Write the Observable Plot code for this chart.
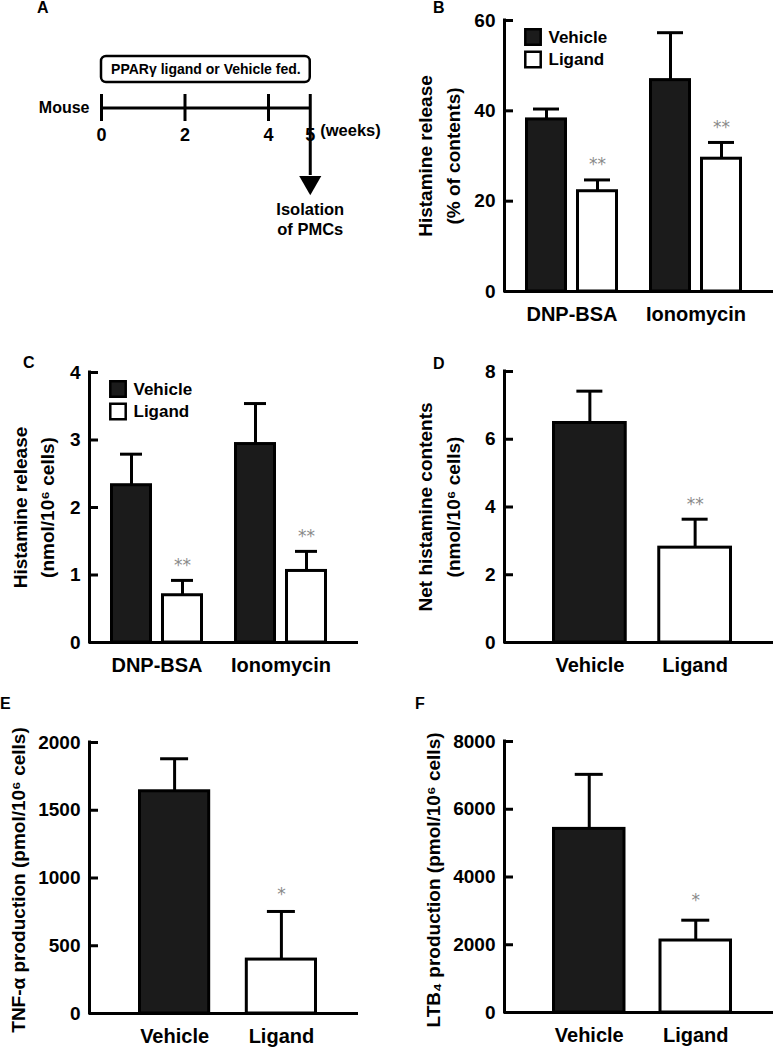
<!DOCTYPE html>
<html>
<head>
<meta charset="utf-8">
<script src="https://cdn.jsdelivr.net/npm/d3@7"></script>
<script src="https://cdn.jsdelivr.net/npm/@observablehq/plot@0.6"></script>
<style>
  body { margin: 0; background: #fff; }
  #fig { position: relative; width: 774px; height: 1050px; overflow: hidden;
         font-family: "Liberation Sans", Arial, Helvetica, sans-serif; color: #000; }
  .panel { position: absolute; }
  .panel svg { overflow: visible; }
  .letter { position: absolute; font-weight: bold; font-size: 16px; line-height: 16px; }
</style>
</head>
<body>
<div id="fig"></div>
<script>
const FONT = '"Liberation Sans", Arial, Helvetica, sans-serif';

// ---------- shared ----------
const seriesNames = ["Vehicle", "Ligand"];
const seriesFills = ["#1b1b1b", "#ffffff"];

// ---------- Panel A: protocol timeline ----------
const weekTicks = [0, 2, 4, 5];
const treatmentLabel = "PPARγ ligand or Vehicle fed.";
const treatmentStart = 0;
const treatmentEnd = 5;
const isolationWeek = 5;
const isolationLabel = "Isolation\nof PMCs";

// ---------- Panel B: histamine release (% of contents) ----------
const stimuli = ["DNP-BSA", "Ionomycin"];
const bVehicleMean = [38.1, 46.8];
const bVehicleSem = [2.3, 10.5];
const bLigandMean = [22.2, 29.4];
const bLigandSem = [2.5, 3.6];
const bLigandSig = ["**", "**"];
const bTicks = [0, 20, 40, 60];

// ---------- Panel C: histamine release (nmol/10^6 cells) ----------
const cVehicleMean = [2.33, 2.94];
const cVehicleSem = [0.46, 0.60];
const cLigandMean = [0.70, 1.06];
const cLigandSem = [0.22, 0.29];
const cLigandSig = ["**", "**"];
const cTicks = [0, 1, 2, 3, 4];

// ---------- Panel D: net histamine contents ----------
const dMean = [6.48, 2.80];
const dSem = [0.94, 0.84];
const dSig = ["", "**"];
const dTicks = [0, 2, 4, 6, 8];

// ---------- Panel E: TNF-alpha production ----------
const eMean = [1640, 398];
const eSem = [240, 355];
const eSig = ["", "*"];
const eTicks = [0, 500, 1000, 1500, 2000];

// ---------- Panel F: LTB4 production ----------
const fMean = [5420, 2125];
const fSem = [1610, 600];
const fSig = ["", "*"];
const fTicks = [0, 2000, 4000, 6000, 8000];

// ---------- helpers ----------
function groupedRows(cats, vm, vs, lm, ls, lsig) {
  const rows = [];
  cats.forEach((c, i) => {
    rows.push({x: c, series: seriesNames[0], mean: vm[i], sem: vs[i], sig: ""});
    rows.push({x: c, series: seriesNames[1], mean: lm[i], sem: ls[i], sig: lsig[i]});
  });
  return rows;
}
function singleRows(means, sems, sigs) {
  return seriesNames.map((s, i) => ({x: s, series: s, mean: means[i], sem: sems[i], sig: sigs[i]}));
}

const fig = document.getElementById("fig");
function place(node, left, top) {
  const d = document.createElement("div");
  d.className = "panel";
  d.style.left = left + "px";
  d.style.top = top + "px";
  d.appendChild(node);
  fig.appendChild(d);
}
function letter(t, left, top) {
  const d = document.createElement("div");
  d.className = "letter";
  d.textContent = t;
  d.style.left = left + "px";
  d.style.top = top + "px";
  fig.appendChild(d);
}

function barPanel(c) {
  const plotW = c.width - c.marginLeft - c.marginRight;
  const n = c.xDomain.length;
  const step = (c.xRange[1] - c.xRange[0]) / (n - c.xPad);
  const bw = step * (1 - c.xPad);
  const marks = [];
  // inward tick marks
  marks.push(Plot.tickY(c.ticks, {y: d => d, insetRight: plotW - 9, stroke: "black", strokeWidth: 3}));
  seriesNames.forEach((s, i) => {
    const data = c.rows.filter(r => r.series === s);
    const dx = c.grouped ? (i === 0 ? -1 : 1) * (bw - c.barW) / 2 : 0;
    const capInset = (bw - c.capW) / 2;
    let inL = 1.5, inR = 1.5;
    if (c.grouped) { if (i === 0) inR += bw - c.barW; else inL += bw - c.barW; }
    marks.push(Plot.ruleX(data, {x: "x", y1: "mean", y2: d => d.mean + d.sem, dx, stroke: "black", strokeWidth: 3}));
    marks.push(Plot.tickY(data, {x: "x", y: d => d.mean + d.sem, dx, insetLeft: capInset, insetRight: capInset, stroke: "black", strokeWidth: 3}));
    marks.push(Plot.barY(data, {x: "x", y: "mean", fill: seriesFills[i], stroke: "black", strokeWidth: 3, insetLeft: inL, insetRight: inR}));
    marks.push(Plot.text(data, {x: "x", y: d => d.mean + d.sem, text: "sig", dx, dy: c.starDy, fontSize: 17, fontWeight: "normal", fontFamily: '"DejaVu Sans", sans-serif', fill: "#8a8a8a", lineAnchor: "middle"}));
    if (c.legend) {
      marks.push(Plot.dot([s], {x: null, y: null, frameAnchor: "top-left", dx: 28.5, dy: 16.5 + 22.5 * i, symbol: "square", r: 8.7, fill: seriesFills[i], stroke: "black", strokeWidth: 2.5}));
      marks.push(Plot.text([s], {frameAnchor: "top-left", dx: 44, dy: 17 + 22.5 * i, textAnchor: "start", lineAnchor: "middle", fontSize: 17}));
    }
  });
  c.yLabels.forEach((lab, i) => {
    marks.push(Plot.text([lab], {frameAnchor: "left", rotate: -90, dx: c.yLabelDx[i], dy: c.yLabelDy || 0, textAnchor: "middle", lineAnchor: "middle", fontSize: 19}));
  });
  marks.push(Plot.axisY({ticks: c.ticks, tickSize: 0, tickPadding: 9, fontSize: 19, tickFormat: d => String(d), label: null}));
  marks.push(Plot.axisX({tickSize: 0, tickPadding: 15, fontSize: 20, label: null}));
  marks.push(Plot.ruleY([0], {stroke: "black", strokeWidth: 3}));
  marks.push(Plot.ruleX([0], {x: null, dx: -plotW / 2, stroke: "black", strokeWidth: 3, strokeLinecap: "square"}));
  return Plot.plot({
    width: c.width, height: c.height,
    marginTop: c.marginTop, marginBottom: c.marginBottom, marginLeft: c.marginLeft, marginRight: c.marginRight,
    x: {type: "band", domain: c.xDomain, range: c.xRange, paddingInner: c.xPad, paddingOuter: 0, round: false},
    y: {domain: c.yDomain},
    style: {fontFamily: FONT, fontWeight: "bold", color: "black", background: "transparent", overflow: "visible"},
    marks
  });
}

// ---------- Panel A ----------
const panelA = Plot.plot({
  width: 380, height: 300,
  marginTop: 94, marginBottom: 179, marginLeft: 101, marginRight: 70.25,
  x: {domain: [weekTicks[0], weekTicks[weekTicks.length - 1]], axis: null},
  style: {fontFamily: FONT, fontWeight: "bold", color: "black", background: "transparent", overflow: "visible"},
  marks: [
    Plot.rect([treatmentLabel], {x1: treatmentStart, x2: treatmentEnd, insetTop: -38, insetBottom: 39, rx: 5, fill: "white", stroke: "black", strokeWidth: 2.5}),
    Plot.text([treatmentLabel], {x: (treatmentStart + treatmentEnd) / 2, frameAnchor: "top", lineAnchor: "middle", dy: -25, fontSize: 14}),
    Plot.ruleY([0], {y: null, x1: weekTicks[0], x2: weekTicks[weekTicks.length - 1], stroke: "black", strokeWidth: 3}),
    Plot.tickX(weekTicks, {x: d => d, stroke: "black", strokeWidth: 3}),
    Plot.text(weekTicks, {x: d => d, text: d => String(d), frameAnchor: "bottom", lineAnchor: "middle", dy: 14, fontSize: 18}),
    Plot.text(["(weeks)"], {x: weekTicks[weekTicks.length - 1], frameAnchor: "bottom", lineAnchor: "middle", dx: 10, dy: 9, textAnchor: "start", fontSize: 16.5}),
    Plot.text(["Mouse"], {x: weekTicks[0], frameAnchor: "middle", lineAnchor: "middle", textAnchor: "end", dx: -12, fontSize: 16}),
    Plot.ruleX([isolationWeek], {x: d => d, insetTop: 27, insetBottom: -54, stroke: "black", strokeWidth: 3}),
    Plot.dot([isolationWeek], {x: d => d, y: null, frameAnchor: "bottom", dy: 61, symbol: "triangle", r: 8.2, rotate: 180, fill: "black", stroke: "none"}),
    Plot.text([isolationLabel], {x: isolationWeek, frameAnchor: "bottom", lineAnchor: "middle", dy: 97, fontSize: 16.5, lineHeight: 1.2})
  ]
});
place(panelA, 0, 0);

// ---------- Panel B ----------
place(barPanel({
  rows: groupedRows(stimuli, bVehicleMean, bVehicleSem, bLigandMean, bLigandSem, bLigandSig),
  width: 394, height: 335, marginTop: 20, marginBottom: 44, marginLeft: 124, marginRight: 1,
  xDomain: stimuli, xRange: [145, 362], xPad: 0.25, grouped: true, barW: 42, capW: 26,
  yDomain: [0, 60], ticks: bTicks, starDy: -15,
  yLabels: ["Histamine release", "(% of contents)"], yLabelDx: [-79, -51], legend: true
}), 380, 0);

// ---------- Panel C ----------
place(barPanel({
  rows: groupedRows(stimuli, cVehicleMean, cVehicleSem, cLigandMean, cLigandSem, cLigandSig),
  width: 380, height: 360, marginTop: 52, marginBottom: 38, marginLeft: 89, marginRight: 22,
  xDomain: stimuli, xRange: [110, 327], xPad: 0.25, grouped: true, barW: 42, capW: 22,
  yDomain: [0, 4], ticks: cTicks, starDy: -15,
  yLabels: ["Histamine release", "(nmol/10⁶ cells)"], yLabelDx: [-69, -42], legend: true
}), 0, 320);

// ---------- Panel D ----------
place(barPanel({
  rows: singleRows(dMean, dSem, dSig),
  width: 394, height: 360, marginTop: 51, marginBottom: 38, marginLeft: 124, marginRight: 1,
  xDomain: seriesNames, xRange: [172, 352], xPad: 0.29, grouped: false, capW: 26,
  yDomain: [0, 8], ticks: dTicks, starDy: -15,
  yLabels: ["Net histamine contents", "(nmol/10⁶ cells)"], yLabelDx: [-79, -51], legend: false
}), 380, 320);

// ---------- Panel E ----------
place(barPanel({
  rows: singleRows(eMean, eSem, eSig),
  width: 380, height: 370, marginTop: 62, marginBottom: 37, marginLeft: 89, marginRight: 22,
  xDomain: seriesNames, xRange: [138, 317], xPad: 0.324, grouped: false, capW: 28,
  yDomain: [0, 2000], ticks: eTicks, starDy: -17,
  yLabels: ["TNF-α production (pmol/10⁶ cells)"], yLabelDx: [-71], yLabelDy: 2, legend: false
}), 0, 680);

// ---------- Panel F ----------
place(barPanel({
  rows: singleRows(fMean, fSem, fSig),
  width: 394, height: 370, marginTop: 61, marginBottom: 38, marginLeft: 124, marginRight: 1,
  xDomain: seriesNames, xRange: [172, 352], xPad: 0.31, grouped: false, capW: 28,
  yDomain: [0, 8000], ticks: fTicks, starDy: -20,
  yLabels: ["LTB₄ production (pmol/10⁶ cells)"], yLabelDx: [-71], yLabelDy: 3, legend: false
}), 380, 680);

// ---------- panel letters ----------
letter("A", 37, 0);
letter("B", 433, 0);
letter("C", 23, 355);
letter("D", 433, 356);
letter("E", 0, 696);
letter("F", 415, 696);
</script>
</body>
</html>
